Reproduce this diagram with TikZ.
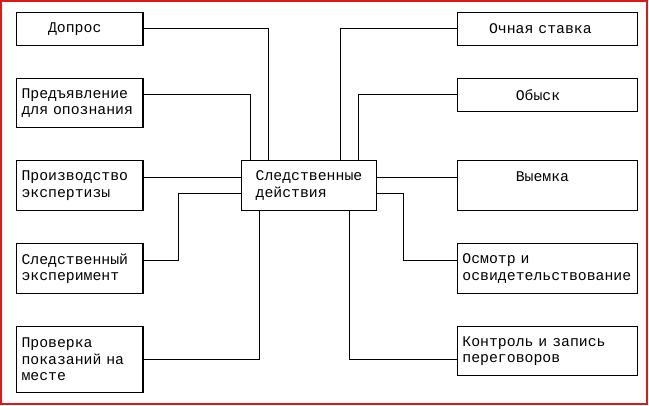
\documentclass[tikz,border=0pt]{standalone}
\usepackage{fontspec}
\setmainfont{Liberation Mono}
\usetikzlibrary{positioning}
\definecolor{framered}{RGB}{220,24,24}
\tikzstyle{every node}=[font=\fontsize{14.8pt}{16.6pt}\selectfont]
\tikzstyle{block} = [rectangle, draw, line width=1.3pt, outer sep=0pt, align=left, inner xsep=5pt]
\tikzstyle{leftblock} = [block, text width=116.5pt]
\tikzstyle{rightblock} = [block, text width=170pt]
\tikzstyle{toptext} = [inner ysep=12pt, text height=8.5pt, text depth=17.5pt]
\tikzstyle{line} = [draw, line width=1pt]

\begin{document}
\begin{tikzpicture}[x=1pt,y=-1pt]
    \useasboundingbox (0,0) rectangle (649,406);
    \draw [framered, line width=2pt] (1,1) rectangle (646.5,404);
    % Place nodes
    \node [leftblock, minimum height=33pt, anchor=north west] (dopros) at (16.5,12.3) {\hspace*{26.6pt}Допрос};
    \node [leftblock, minimum height=49.5pt, below=33pt of dopros] (predj) {Предъявление\\для опознания};
    \node [leftblock, minimum height=50pt, below=33pt of predj] (proizv) {Производство\\экспертизы};
    \node [leftblock, minimum height=50pt, below=33pt of proizv] (eksp) {Следственный\\эксперимент};
    \node [leftblock, minimum height=65.5pt, below=33pt of eksp] (proverka) {Проверка\\показаний на\\месте};
    \node [block, inner xsep=14pt, minimum height=50pt, anchor=north west] (sled) at ([xshift=98.7pt]proizv.north east) {Следственные\\действия};
    \node [rightblock, minimum height=33pt, anchor=north west] (ochnaya) at (457.5,12.3) {\hspace*{26.6pt}Очная ставка};
    \node [rightblock, minimum height=33pt, below=33pt of ochnaya] (obysk) {\hspace*{53.3pt}Обыск};
    \node [rightblock, toptext, anchor=north west] (vyemka) at ([xshift=81.2pt]sled.north east) {\hspace*{53.3pt}Выемка};
    \node [rightblock, minimum height=50pt, below=33pt of vyemka] (osmotr) {Осмотр и\\освидетельствование};
    \node [rightblock, minimum height=49pt, below=33pt of osmotr] (kontrol) {Контроль и запись\\переговоров};
    % Draw edges
    \path [line] (dopros.east) -| (268.3,0 |- sled.north);
    \path [line] ([yshift=-16pt]predj.north east) -| (250,0 |- sled.north);
    \path [line] ([yshift=-17pt]proizv.north east) -- ([yshift=-17pt]sled.north west);
    \path [line] ([yshift=-17pt]eksp.north east) -| ([xshift=-63.4pt,yshift=-33pt]sled.north west) -- ([yshift=-33pt]sled.north west);
    \path [line] (proverka.east) -| (259.3,0 |- sled.south);
    \path [line] (ochnaya.west) -| (340.7,0 |- sled.north);
    \path [line] (obysk.west) -| (358.3,0 |- sled.north);
    \path [line] ([yshift=-17pt]vyemka.north west) -- ([yshift=-17pt]sled.north east);
    \path [line] ([yshift=-17pt]osmotr.north west) -| ([xshift=27pt,yshift=-33pt]sled.north east) -- ([yshift=-33pt]sled.north east);
    \path [line] ([yshift=-33pt]kontrol.north west) -| (349.3,0 |- sled.south);
\end{tikzpicture}
\end{document}
